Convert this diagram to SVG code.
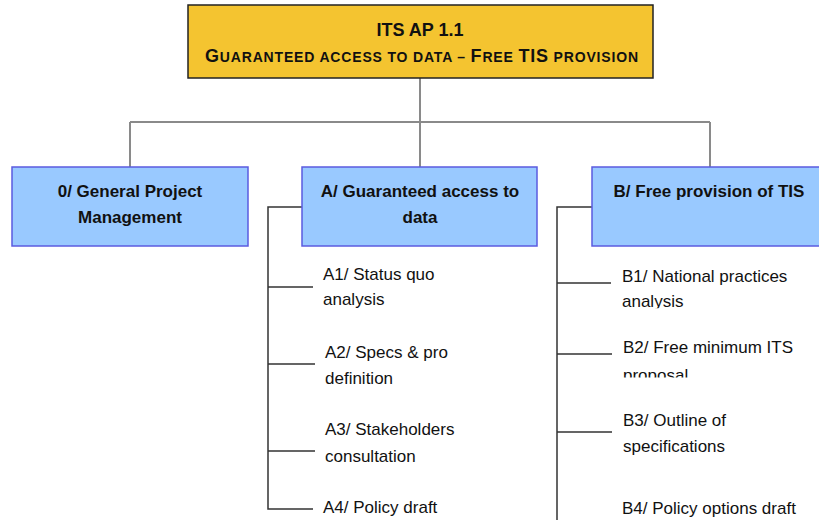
<svg xmlns="http://www.w3.org/2000/svg" width="819" height="520" viewBox="0 0 819 520">
  <style>
    text { font-family: "Liberation Sans", Arial, sans-serif; fill: #111; }
    .root { fill: #F4C430; stroke: #222; stroke-width: 1.5; }
    .branch { fill: #99C9FF; stroke: #5B5BE0; stroke-width: 1.5; }
    .hd { font-size: 17px; font-weight: bold; text-anchor: middle; }
    .task { font-size: 17px; }
    .trunk { fill: none; stroke: #8A8A8A; stroke-width: 2; }
    .tree { fill: none; stroke: #333; stroke-width: 1.5; }
  </style>
  <defs>
    <clipPath id="clipB1"><rect x="600" y="260" width="219" height="48.3"/></clipPath>
    <clipPath id="clipB2"><rect x="600" y="330" width="219" height="47.5"/></clipPath>
  </defs>
  <rect width="819" height="520" fill="#fff"/>

  <g id="connectors">
    <path class="trunk" d="M420 78 V122 M130 122 H710 M130 122 V167 M420 122 V167 M710 122 V167"/>
    <path class="tree" d="M302 207 H268 V509 H313 M268 287 H313 M268 364 H315 M268 451 H315"/>
    <path class="tree" d="M592 207 H557 V520 M557 283 H611 M557 354 H612 M557 432 H612"/>
  </g>

  <g id="root">
    <rect class="root" x="188" y="5" width="465" height="73"/>
    <text x="420" y="36" font-size="18" font-weight="bold" text-anchor="middle">ITS AP 1.1</text>
    <text x="205" y="62" font-weight="bold" textLength="433" lengthAdjust="spacing"><tspan font-size="18">G</tspan><tspan font-size="14">UARANTEED ACCESS TO DATA – </tspan><tspan font-size="18">F</tspan><tspan font-size="14">REE </tspan><tspan font-size="18">TIS</tspan><tspan font-size="14"> PROVISION</tspan></text>
  </g>

  <g id="node-0">
    <rect class="branch" x="12" y="167" width="236" height="79"/>
    <text class="hd" x="130" y="197">0/ General Project</text>
    <text class="hd" x="130" y="223">Management</text>
  </g>

  <g id="node-A">
    <rect class="branch" x="302" y="167" width="235" height="79"/>
    <text class="hd" x="420" y="197">A/ Guaranteed access to</text>
    <text class="hd" x="420" y="223">data</text>
  </g>

  <g id="node-B">
    <rect class="branch" x="592" y="167" width="240" height="79"/>
    <text class="hd" x="709" y="197">B/ Free provision of TIS</text>
  </g>

  <g id="task-A1">
    <text class="task" x="323" y="280">A1/ Status quo</text>
    <text class="task" x="323" y="305">analysis</text>
  </g>
  <g id="task-A2">
    <text class="task" x="325" y="358">A2/ Specs &amp; pro</text>
    <text class="task" x="325" y="384">definition</text>
  </g>
  <g id="task-A3">
    <text class="task" x="325" y="435">A3/ Stakeholders</text>
    <text class="task" x="325" y="462">consultation</text>
  </g>
  <g id="task-A4">
    <text class="task" x="323" y="513">A4/ Policy draft</text>
  </g>

  <g id="task-B1">
    <text class="task" x="622" y="282">B1/ National practices</text>
    <text class="task" x="622" y="307" clip-path="url(#clipB1)">analysis</text>
  </g>
  <g id="task-B2">
    <text class="task" x="623" y="353">B2/ Free minimum ITS</text>
    <text class="task" x="623" y="381" clip-path="url(#clipB2)">proposal</text>
  </g>
  <g id="task-B3">
    <text class="task" x="623" y="426">B3/ Outline of</text>
    <text class="task" x="623" y="452">specifications</text>
  </g>
  <g id="task-B4">
    <text class="task" x="622" y="514">B4/ Policy options draft</text>
  </g>
</svg>
